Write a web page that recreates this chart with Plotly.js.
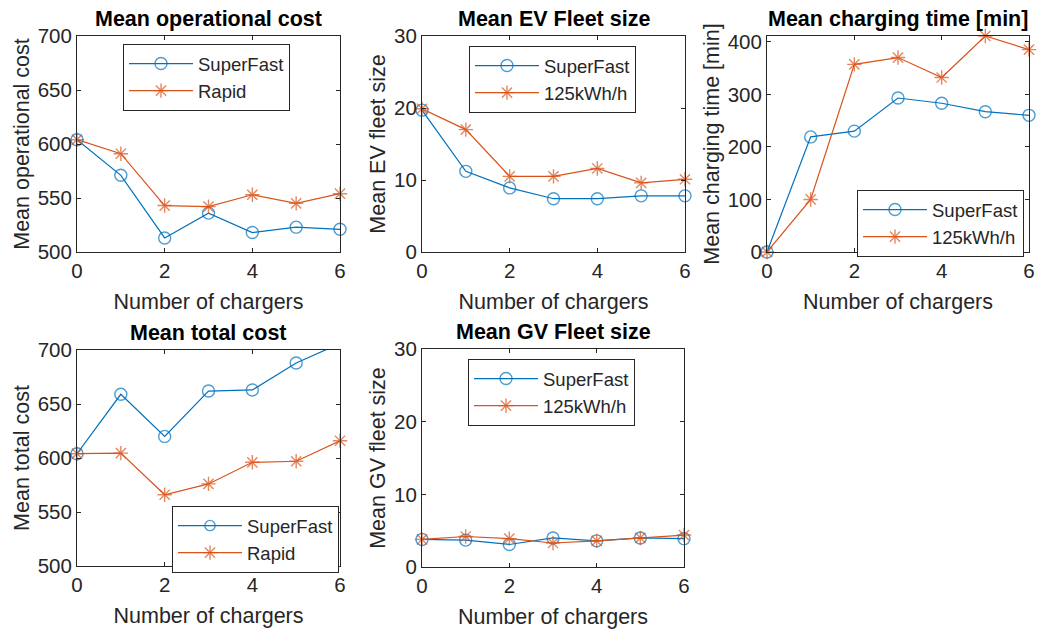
<!DOCTYPE html>
<html>
<head>
<meta charset="utf-8">
<script src="https://cdn.plot.ly/plotly-3.0.1.min.js"></script>
<style>html,body{margin:0;padding:0;background:#fff;}</style>
</head>
<body>
<div id="chart" style="width:1038px;height:630px;"></div>
<script>
// ---- data ----
const chargers = [0, 1, 2, 3, 4, 5, 6];
const xTicks = [0, 2, 4, 6];

const opCostSuperFast = [604, 571, 513, 536, 518, 523, 521];
const opCostRapid     = [604, 591, 543, 542, 553, 545, 554];

const evFleetSuperFast = [19.7, 11.2, 8.9, 7.4, 7.4, 7.8, 7.8];
const evFleet125       = [19.9, 17.0, 10.5, 10.5, 11.6, 9.6, 10.1];

const chargeTimeSuperFast = [0, 219, 230, 293, 283, 267, 260];
const chargeTime125       = [0, 100, 357, 370, 332, 411, 385];

const totalCostSuperFast = [604, 659, 620, 662, 663, 688, 706];
const totalCostRapid     = [604, 604.5, 566, 576, 596, 597, 616];

const gvFleetSuperFast = [3.8, 3.7, 3.1, 4.0, 3.6, 4.0, 3.9];
const gvFleet125       = [3.8, 4.2, 3.9, 3.3, 3.6, 4.0, 4.4];

const titles = ['Mean operational cost', 'Mean EV Fleet size', 'Mean charging time [min]', 'Mean total cost', 'Mean GV Fleet size'];
const yLabels = ['Mean operational cost', 'Mean EV fleet size', 'Mean charging time [min]', 'Mean total cost', 'Mean GV fleet size'];
const xLabel = 'Number of chargers';

// ---- styling ----
const W = 1038, H = 630;
const BLUE = '#0072BD', ORANGE = '#D95319', AX = '#262626';
const FONT = 'Liberation Sans, Arial, Helvetica, sans-serif';

// panels in pixel boxes [left, right, top, bottom]
const boxes = [
  [77, 340, 36, 252],
  [422, 685, 36, 252],
  [767, 1029, 36, 252],
  [77, 340, 350, 566],
  [422, 684, 349, 567]
];
const yRanges = [[500, 700], [0, 30], [0, 411], [500, 700], [0, 30]];
const yTickVals = [
  [500, 550, 600, 650, 700],
  [0, 10, 20, 30],
  [0, 100, 200, 300, 400],
  [500, 550, 600, 650, 700],
  [0, 10, 20, 30]
];
// legend boxes [left, top]
const legendPos = [[123, 44], [469, 46], [857, 190], [172, 506], [468, 359]];

const series = [
  [opCostSuperFast, opCostRapid, 'SuperFast', 'Rapid'],
  [evFleetSuperFast, evFleet125, 'SuperFast', '125kWh/h'],
  [chargeTimeSuperFast, chargeTime125, 'SuperFast', '125kWh/h'],
  [totalCostSuperFast, totalCostRapid, 'SuperFast', 'Rapid'],
  [gvFleetSuperFast, gvFleet125, 'SuperFast', '125kWh/h']
];

const traces = [];
const layout = {
  width: W, height: H, autosize: false,
  margin: {l: 0, r: 0, t: 0, b: 0},
  paper_bgcolor: '#fff', plot_bgcolor: '#fff',
  font: {family: FONT, size: 20, color: AX},
  annotations: []
};

series.forEach((s, i) => {
  const n = i + 1;
  const xa = 'x' + (n === 1 ? '' : n), ya = 'y' + (n === 1 ? '' : n);
  const lg = 'legend' + (n === 1 ? '' : n);
  const yr = yRanges[i];
  const sizeFor = arr => arr.map(v => (v > yr[1] || v < yr[0]) ? 0 : 12);
  traces.push({
    x: chargers, y: s[0], name: s[2], type: 'scatter', mode: 'lines+markers',
    xaxis: xa, yaxis: ya, legend: lg, cliponaxis: false,
    line: {color: BLUE, width: 1.2},
    marker: {symbol: 'circle-open', size: sizeFor(s[0]), color: BLUE, line: {width: 1.4, color: BLUE}}
  });
  traces.push({
    x: chargers, y: s[1], name: s[3], type: 'scatter', mode: 'lines+markers',
    xaxis: xa, yaxis: ya, legend: lg, cliponaxis: false,
    line: {color: ORANGE, width: 1.2},
    marker: {symbol: 'asterisk-open', size: sizeFor(s[1]), color: ORANGE, line: {width: 1.4, color: ORANGE}}
  });

  const b = boxes[i];
  const common = {
    showgrid: false, zeroline: false, showline: true, linecolor: AX, linewidth: 1,
    mirror: 'ticks', ticks: 'inside', ticklen: 4, tickcolor: AX, tickwidth: 1,
    tickfont: {family: FONT, size: 20.5, color: AX}, fixedrange: true
  };
  layout['xaxis' + (n === 1 ? '' : n)] = Object.assign({}, common, {
    domain: [b[0] / W, b[1] / W], anchor: ya, range: [0, 6],
    tickmode: 'array', tickvals: xTicks, ticktext: xTicks.map(String),
    title: {text: xLabel, font: {family: FONT, size: 21.5, color: AX}, standoff: 13}
  });
  layout['yaxis' + (n === 1 ? '' : n)] = Object.assign({}, common, {
    domain: [1 - b[3] / H, 1 - b[2] / H], anchor: xa, range: yr,
    tickmode: 'array', tickvals: yTickVals[i], ticktext: yTickVals[i].map(String),
    title: {text: yLabels[i], font: {family: FONT, size: 21.5, color: AX}, standoff: 2}
  });
  const lp = legendPos[i];
  layout[lg] = {
    x: lp[0] / W, y: 1 - lp[1] / H, xanchor: 'left', yanchor: 'top',
    bgcolor: '#fff', bordercolor: '#262626', borderwidth: 1,
    font: {family: FONT, size: 18.5, color: AX},
    itemwidth: 64, tracegroupgap: 0, itemclick: false, itemdoubleclick: false
  };
  layout.annotations.push({
    text: '<b>' + titles[i] + '</b>', xref: 'paper', yref: 'paper',
    x: (b[0] + b[1]) / 2 / W, y: 1 - (b[2] - 3) / H, xanchor: 'center', yanchor: 'bottom',
    showarrow: false, font: {family: FONT, size: 21.5, color: '#000'}
  });
});

Plotly.newPlot('chart', traces, layout, {staticPlot: true, displayModeBar: false});
</script>
</body>
</html>
